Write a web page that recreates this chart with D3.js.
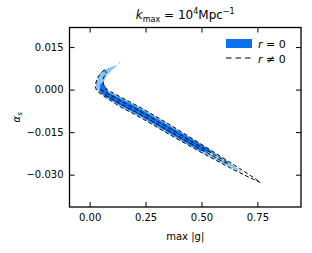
<!DOCTYPE html>
<html>
<head>
<meta charset="utf-8">
<script src="https://cdn.jsdelivr.net/npm/d3@7"></script>
<style>
  body { margin: 0; background: #fff; }
  text { font-family: "DejaVu Sans", sans-serif; fill: #000; }
</style>
</head>
<body>
<div id="chart"></div>
<script>
// contour outlines, in data units (max|g|, alpha_s)
const r0Outer = [
  [0.1254, 0.00872], [0.1009, 0.00819], [0.0698, 0.00714], [0.0476, 0.00573],
  [0.0342, 0.00362], [0.0276, 0.00151], [0.0320, 0.0001], [0.0476, -0.0013],
  [0.1365, -0.00605], [0.2254, -0.00975], [0.3588, -0.0159], [0.4922, -0.02187],
  [0.6034, -0.02640], [0.6879, -0.02961], [0.6256, -0.02560], [0.4922, -0.01888],
  [0.3588, -0.01237], [0.2254, -0.00622], [0.1365, -0.00253], [0.0831, -0.0005],
  [0.0654, 0.00081], [0.0631, 0.00257], [0.0743, 0.00468], [0.0965, 0.00661]
];
const r0Speck = [[0.131, 0.0093], [0.135, 0.0098], [0.138, 0.0094], [0.134, 0.0090]];
const r0Inner = [
  [0.0476, 0.00186], [0.0609, 0.00239], [0.0698, 0.00116], [0.0831, -0.00095],
  [0.1365, -0.00306], [0.2254, -0.00675], [0.3588, -0.0129], [0.4922, -0.01906],
  [0.5367, -0.02117], [0.5545, -0.0224], [0.4922, -0.02152], [0.3588, -0.01537],
  [0.2254, -0.00921], [0.1365, -0.00552], [0.0654, -0.00218], [0.0454, -0.00025]
];
const rnOuter = [
  [0.0654, 0.00696], [0.0476, 0.00573], [0.0320, 0.00362], [0.0250, 0.00116],
  [0.0310, -0.00030], [0.0476, -0.0015], [0.1365, -0.00605], [0.2254, -0.00975],
  [0.3588, -0.0159], [0.4922, -0.02187], [0.6256, -0.0275], [0.7145, -0.03100],
  [0.7635, -0.03277], [0.7323, -0.03100], [0.6701, -0.02780], [0.5367, -0.02110],
  [0.3588, -0.01237], [0.2254, -0.00622], [0.1365, -0.00253], [0.0787, -0.00007],
  [0.0609, 0.00186], [0.0609, 0.00397], [0.0743, 0.00608]
];
const rnInner = [
  [0.0476, 0.0001], [0.1365, -0.00394], [0.2254, -0.00763], [0.3588, -0.01378],
  [0.4922, -0.01994], [0.6078, -0.02521], [0.6212, -0.02609], [0.5989, -0.02556],
  [0.4922, -0.02082], [0.3588, -0.01484], [0.2254, -0.00869], [0.1365, -0.00499],
  [0.0520, -0.00113], [0.0409, -0.00025]
];
const xTicks = [0, 0.25, 0.5, 0.75];
const yTicks = [0.015, 0, -0.015, -0.03];

const width = 312, height = 253;
const box = {left: 69.5, right: 301, top: 27.5, bottom: 207};
const darkBlue = "#0a72f0", lightBlue = "#86c6f6";

const svg = d3.select("#chart").append("svg")
    .attr("width", width)
    .attr("height", height);

const x = d3.scaleLinear().domain([-0.09, 0.945]).range([box.left, box.right]);
const y = d3.scaleLinear().domain([-0.0414, 0.0219]).range([box.bottom, box.top]);

const line = d3.line().x(d => x(d[0])).y(d => y(d[1])).curve(d3.curveLinearClosed);

// filled contours for r = 0
svg.append("path").attr("d", line(r0Outer)).attr("fill", lightBlue);
svg.append("path").attr("d", line(r0Speck)).attr("fill", lightBlue);
svg.append("path").attr("d", line(r0Inner)).attr("fill", darkBlue);

// dashed contours for r != 0
[rnOuter, rnInner].forEach(c => {
    svg.append("path")
        .attr("d", line(c))
        .attr("fill", "none")
        .attr("stroke", "#000")
        .attr("stroke-width", 1)
        .attr("stroke-dasharray", "4,2.5");
});

// axes, ticks pointing inward on all four sides
const fmt = d3.format(".3f");
const xFmt = d3.format(".2f");
function styleAxis(g) {
    g.select(".domain").remove();
    g.selectAll("line").attr("stroke", "#000");
    g.selectAll("text").style("font-size", "10px").attr("font-family", "DejaVu Sans");
}
svg.append("g").attr("transform", `translate(0,${box.bottom})`)
    .call(d3.axisBottom(x).tickValues(xTicks).tickFormat(xFmt).tickSize(-5).tickPadding(7))
    .call(styleAxis);
svg.append("g").attr("transform", `translate(0,${box.top})`)
    .call(d3.axisTop(x).tickValues(xTicks).tickFormat("").tickSize(-5))
    .call(styleAxis);
svg.append("g").attr("transform", `translate(${box.left},0)`)
    .call(d3.axisLeft(y).tickValues(yTicks).tickFormat(d => fmt(d).replace("-", "\u2212")).tickSize(-5).tickPadding(6))
    .call(styleAxis);
svg.append("g").attr("transform", `translate(${box.right},0)`)
    .call(d3.axisRight(y).tickValues(yTicks).tickFormat("").tickSize(-5))
    .call(styleAxis);

svg.append("rect")
    .attr("x", box.left).attr("y", box.top)
    .attr("width", box.right - box.left).attr("height", box.bottom - box.top)
    .attr("fill", "none").attr("stroke", "#000").attr("stroke-width", 1.3);

// title
const title = svg.append("text")
    .attr("x", (box.left + box.right) / 2).attr("y", 19)
    .attr("text-anchor", "middle").style("font-size", "12px");
title.append("tspan").attr("font-style", "italic").text("k");
title.append("tspan").attr("dy", 2.5).style("font-size", "8px").text("max");
title.append("tspan").attr("dy", -2.5).text(" = 10");
title.append("tspan").attr("dy", -5).style("font-size", "8px").text("4");
title.append("tspan").attr("dy", 5).text("Mpc");
title.append("tspan").attr("dy", -5).style("font-size", "8px").text("\u22121");

// axis labels
svg.append("text")
    .attr("x", (box.left + box.right) / 2).attr("y", 240)
    .attr("text-anchor", "middle").style("font-size", "10px")
    .text("max |g|");
const yl = svg.append("text")
    .attr("transform", `translate(20,${(box.top + box.bottom) / 2}) rotate(-90)`)
    .attr("text-anchor", "middle").style("font-size", "10px");
yl.append("tspan").attr("font-style", "italic").text("\u03b1");
yl.append("tspan").attr("dy", 2).style("font-size", "7px").attr("font-style", "italic").text("s");

// legend
svg.append("rect").attr("x", 226).attr("y", 39).attr("width", 26).attr("height", 9).attr("fill", darkBlue);
svg.append("line").attr("x1", 226).attr("x2", 252).attr("y1", 58).attr("y2", 58)
    .attr("stroke", "#000").attr("stroke-width", 1).attr("stroke-dasharray", "5.5,4");
const l1 = svg.append("text").attr("x", 258).attr("y", 48).style("font-size", "11px");
l1.append("tspan").attr("font-style", "italic").text("r");
l1.append("tspan").text(" = 0");
const l2 = svg.append("text").attr("x", 258).attr("y", 62.5).style("font-size", "11px");
l2.append("tspan").attr("font-style", "italic").text("r");
l2.append("tspan").text(" \u2260 0");
</script>
</body>
</html>
